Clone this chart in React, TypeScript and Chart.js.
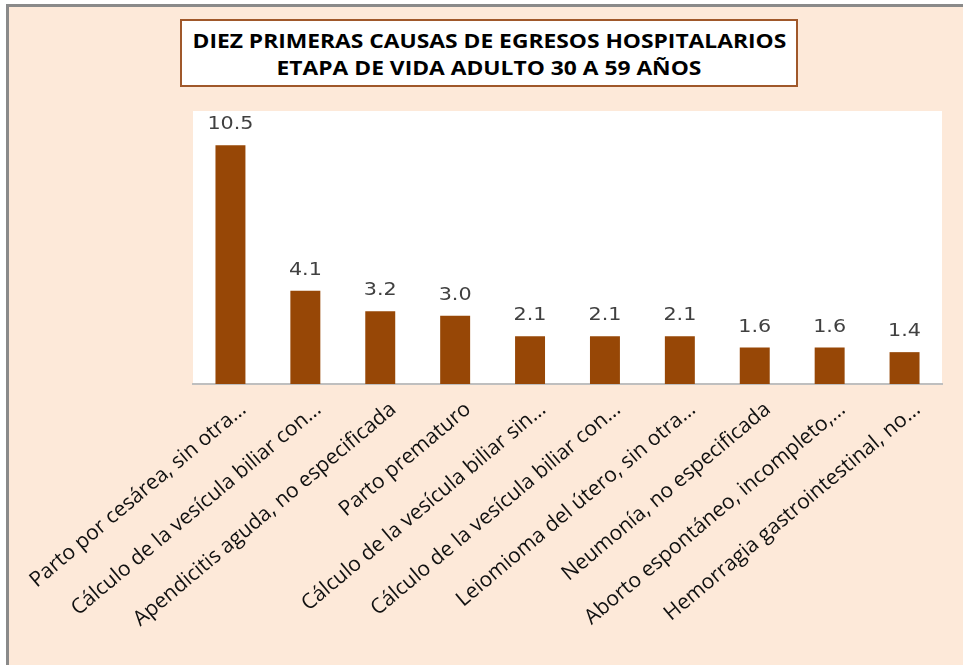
import React, { useEffect, useRef } from "react";
import { Chart, registerables } from "chart.js";

Chart.register(...registerables);

const categories = [
  "Parto por cesárea, sin otra...",
  "Cálculo de la vesícula biliar con...",
  "Apendicitis aguda, no especificada",
  "Parto prematuro",
  "Cálculo de la vesícula biliar sin...",
  "Cálculo de la vesícula biliar con...",
  "Leiomioma del útero, sin otra...",
  "Neumonía, no especificada",
  "Aborto espontáneo, incompleto,...",
  "Hemorragia gastrointestinal, no...",
];

const values = [10.5, 4.1, 3.2, 3.0, 2.1, 2.1, 2.1, 1.6, 1.6, 1.4];

const titleLines = [
  "DIEZ PRIMERAS CAUSAS DE EGRESOS HOSPITALARIOS",
  "ETAPA DE VIDA ADULTO 30 A 59 AÑOS",
];

const W = 963;
const H = 665;

export default function App() {
  const ref = useRef<HTMLCanvasElement | null>(null);

  useEffect(() => {
    if (!ref.current) return;
    const plotBg = {
      id: "plotBg",
      beforeDraw(chart: any) {
        const { ctx, chartArea } = chart;
        ctx.save();
        ctx.fillStyle = "#ffffff";
        ctx.fillRect(
          chartArea.left,
          chartArea.top,
          chartArea.right - chartArea.left,
          chartArea.bottom - chartArea.top
        );
        ctx.restore();
      },
    };
    const valueLabels = {
      id: "valueLabels",
      afterDatasetsDraw(chart: any) {
        const { ctx } = chart;
        const meta = chart.getDatasetMeta(0);
        ctx.font = "18px 'DejaVu Sans'";
        ctx.fillStyle = "#404040";
        ctx.textAlign = "center";
        ctx.textBaseline = "alphabetic";
        meta.data.forEach((el: any, i: number) => {
          ctx.save();
          ctx.translate(el.x, el.y - 16);
          ctx.scale(1.15, 1);
          ctx.fillText(values[i].toFixed(1), 0, 0);
          ctx.restore();
        });
      },
    };
    const chart = new Chart(ref.current, {
      type: "bar",
      data: {
        labels: categories,
        datasets: [
          {
            data: values,
            backgroundColor: "#974706",
            borderWidth: 0,
            barPercentage: 0.4,
            categoryPercentage: 1.0,
          },
        ],
      },
      options: {
        animation: false,
        responsive: false,
        maintainAspectRatio: false,
        layout: { padding: { left: 193, right: 21, top: 111, bottom: 0 } },
        plugins: {
          legend: { display: false },
          title: { display: false },
          tooltip: { enabled: false },
        },
        scales: {
          x: {
            grid: { display: false },
            border: { display: true, color: "#bfbfbf", width: 2 },
            ticks: {
              autoSkip: false,
              maxRotation: 40,
              minRotation: 40,
              padding: 5,
              labelOffset: 13,
              color: "#111111",
              font: { family: "'Open Sans'", size: 21 },
            },
            afterFit(scale: any) {
              scale.height = H - 384;
            },
          },
          y: {
            display: false,
            min: 0,
            max: 12,
          },
        },
      },
      plugins: [plotBg, valueLabels],
    });
    return () => chart.destroy();
  }, []);

  return (
    <div
      style={{
        position: "fixed",
        left: 0,
        top: 0,
        width: W,
        height: H,
        overflow: "hidden",
        background: "#ffffff",
      }}
    >
      <div
        style={{
          position: "absolute",
          left: 6,
          top: 4,
          right: 0,
          bottom: 0,
          background: "#fde9d9",
          borderTop: "3px solid #8a8a8a",
          borderLeft: "3px solid #8a8a8a",
        }}
      />
      <canvas
        ref={ref}
        width={W}
        height={H}
        style={{ position: "absolute", left: 0, top: 0, width: W, height: H }}
      />
      <div
        style={{
          position: "absolute",
          left: 180,
          top: 19,
          width: 614,
          height: 64,
          boxSizing: "content-box",
          background: "#ffffff",
          border: "2px solid #a0582a",
          display: "flex",
          flexDirection: "column",
          justifyContent: "center",
          alignItems: "center",
          paddingTop: 0,
          fontFamily: "'Open Sans', sans-serif",
          fontWeight: 700,
          fontSize: 19,
          lineHeight: "27px",
          color: "#000000",
        }}
      >
        {titleLines.map((t, i) => (
          <div
            key={i}
            style={{
              whiteSpace: "nowrap",
              transform: "translateY(2px) scaleX(1.2)",
            }}
          >
            {t}
          </div>
        ))}
      </div>
    </div>
  );
}
